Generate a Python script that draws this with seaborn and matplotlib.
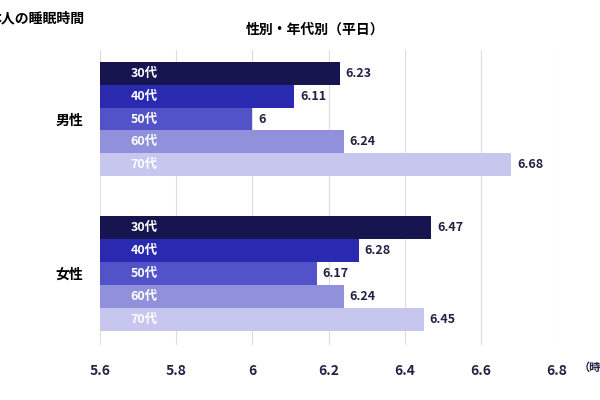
import pandas as pd
import seaborn as sns
import matplotlib.pyplot as plt

plt.rcParams["font.family"] = "Noto Sans CJK JP"

genders = ["男性", "女性"]
ages = ["30代", "40代", "50代", "60代", "70代"]
male = [6.23, 6.11, 6.00, 6.24, 6.68]
female = [6.47, 6.28, 6.17, 6.24, 6.45]
colors = ["#16154f", "#2a2ab0", "#5353c9", "#9191db", "#c6c6ee"]

rows = []
for g, vals in zip(genders, [male, female]):
    for a, v in zip(ages, vals):
        rows.append({"gender": g, "age": a, "hours": v})
df = pd.DataFrame(rows)

fig = plt.figure(figsize=(6, 4), dpi=100)
ax = fig.add_axes([100 / 600, 55 / 400, 457 / 600, 295 / 400])
sns.barplot(data=df, y="gender", x="hours", hue="age", palette=colors,
            orient="h", width=0.74, dodge=True, ax=ax, legend=False,
            saturation=1, zorder=3)

ax.set_xlim(5.6, 6.8)
ax.set_ylim(1.463, -0.447)
ax.set_xticks([5.6, 5.8, 6.0, 6.2, 6.4, 6.6, 6.8])
ax.set_xticklabels(["5.6", "5.8", "6", "6.2", "6.4", "6.6", "6.8"],
                   fontsize=10, fontweight="bold", color="#222244")
ax.tick_params(axis="x", length=0, pad=14)
ax.tick_params(axis="y", length=0, pad=12, labelsize=10)
for t in ax.get_yticklabels():
    t.set_fontweight("bold")
ax.grid(axis="x", color="#dddddd", linewidth=0.8, zorder=0)
ax.set_xlabel("")
ax.set_ylabel("")
for s in ax.spines.values():
    s.set_visible(False)

for i, cont in enumerate(ax.containers):
    for bar in cont:
        w = bar.get_width()
        yc = bar.get_y() + bar.get_height() / 2
        ax.text(5.6 + 0.08, yc, ages[i], color="white", fontsize=9,
                fontweight="bold", va="center", ha="left", zorder=4)
        ax.text(w + 0.015, yc, f"{w:g}", color="#222244", fontsize=9,
                fontweight="bold", va="center", ha="left", zorder=4)

fig.text(-0.02, 0.955, "本人の睡眠時間", fontsize=10, fontweight="bold", ha="left", va="center")
fig.text(0.41, 0.925, "性別・年代別（平日）", fontsize=10, fontweight="bold", ha="left", va="center")
fig.text(0.965, 55 / 400 - 22 / 400, "（時間）", fontsize=8, fontweight="bold", ha="left", va="center",
         color="#222244")

fig.savefig("out.png", dpi=100)
